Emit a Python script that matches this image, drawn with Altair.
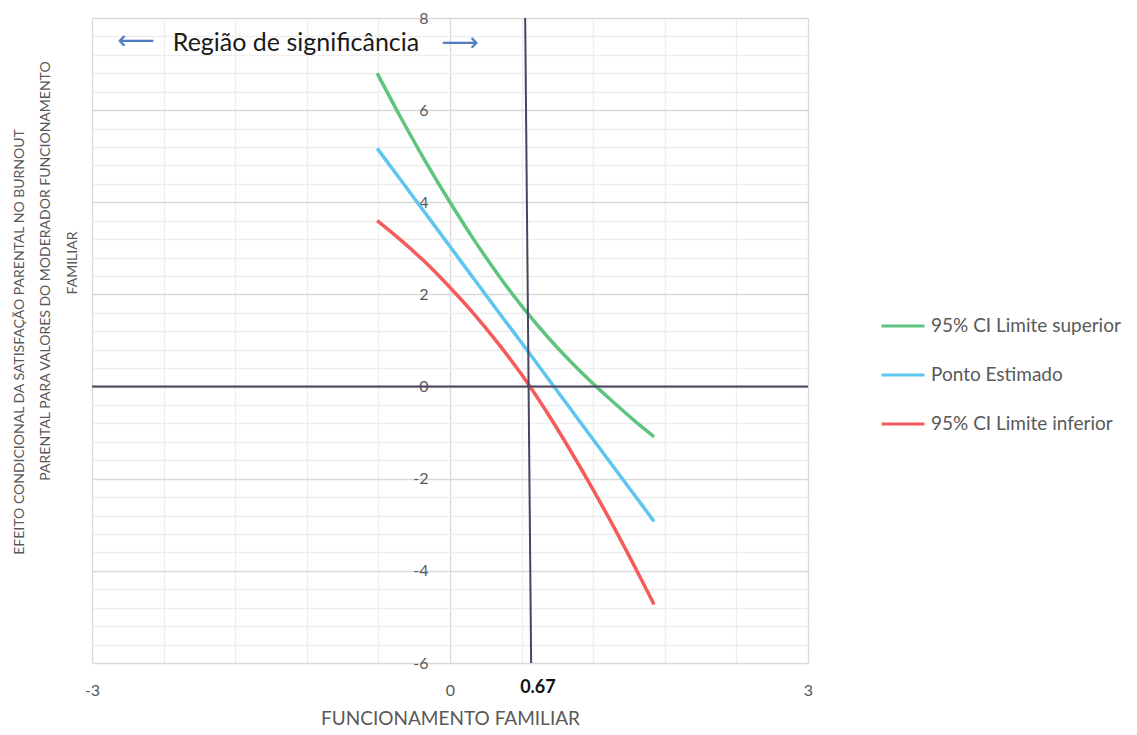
import altair as alt
import pandas as pd

# ---- data ----
x_vals = [-0.61, -0.4, -0.2, 0.0, 0.2, 0.4, 0.6, 0.8, 1.0, 1.2, 1.4, 1.6, 1.71]
upper = [6.80, 5.78, 4.86, 4.00, 3.19, 2.44, 1.75, 1.13, 0.57, 0.06, -0.41, -0.86, -1.09]
estimate = [5.17, 4.44, 3.74, 3.04, 2.34, 1.64, 0.95, 0.25, -0.45, -1.15, -1.85, -2.54, -2.93]
lower = [3.60, 3.15, 2.68, 2.15, 1.58, 0.95, 0.26, -0.51, -1.35, -2.24, -3.18, -4.17, -4.73]

series_names = ["95% CI Limite superior", "Ponto Estimado", "95% CI Limite inferior"]
series_colors = ["#5ec47e", "#5cc6f0", "#f65b5b"]

x_ticks = [-3, -2.4, -1.8, -1.2, -0.6, 0, 0.6, 1.2, 1.8, 2.4, 3]
y_ticks = [-6, -5.6, -5.2, -4.8, -4.4, -4, -3.6, -3.2, -2.8, -2.4, -2, -1.6, -1.2,
           -0.8, -0.4, 0, 0.4, 0.8, 1.2, 1.6, 2, 2.4, 2.8, 3.2, 3.6, 4, 4.4, 4.8,
           5.2, 5.6, 6, 6.4, 6.8, 7.2, 7.6, 8]

jn_value = 0.67
jn_line_x = [0.63, 0.68]
jn_line_y = [8, -6]

x_title = "FUNCIONAMENTO FAMILIAR"
y_title_lines = [
    "EFEITO CONDICIONAL DA SATISFAÇÃO PARENTAL NO BURNOUT",
    "PARENTAL PARA VALORES DO MODERADOR FUNCIONAMENTO",
    "FAMILIAR",
]
annotation = "Região de significância"

# ---- tables ----
rows = []
for name, ys in zip(series_names, [upper, estimate, lower]):
    for xv, yv in zip(x_vals, ys):
        rows.append({"x": xv, "y": yv, "series": name})
df = pd.DataFrame(rows)
df_jn = pd.DataFrame({"x": jn_line_x, "y": jn_line_y})
df_zero = pd.DataFrame({"y": [0]})
df_jnlab = pd.DataFrame({"x": [jn_value], "t": [f"{jn_value:.2f}"]})

FONT = "Lato"
GRAY = "#595959"
major_x = "abs(datum.value/3 - round(datum.value/3)) < 0.001"
major_y = "abs(datum.value/2 - round(datum.value/2)) < 0.001"

x_scale = alt.Scale(domain=[-3, 3], nice=False, zero=False)
y_scale = alt.Scale(domain=[-6, 8], nice=False, zero=False)

x_axis = alt.Axis(
    values=x_ticks, tickCount=50, grid=True, ticks=False, domain=False,
    gridColor={"condition": {"test": major_x, "value": "#d9d9d9"}, "value": "#eeeeee"},
    gridWidth=1.3,
    labelExpr=f"{major_x} ? ('' + datum.value) : ''",
    labelOverlap=False, labelFlush=False, labelPadding=19,
    labelFont=FONT, labelFontSize=16, labelColor=GRAY,
    title=x_title, titleFont=FONT, titleFontSize=19, titleFontWeight="normal",
    titleColor=GRAY, titleY=61, titleBaseline="alphabetic",
)
y_axis = alt.Axis(
    values=y_ticks, tickCount=50, grid=True, ticks=False, domain=False,
    gridColor={"condition": {"test": major_y, "value": "#d9d9d9"}, "value": "#eeeeee"},
    gridWidth=1.3,
    labelExpr=f"{major_y} ? ('' + datum.value) : ''",
    labelOverlap=False, labelFlush=False, labelPadding=22, offset=-358,
    labelFont=FONT, labelFontSize=16, labelColor=GRAY, title=None,
)

lines = alt.Chart(df).mark_line(strokeWidth=3.5, interpolate="monotone").encode(
    x=alt.X("x:Q", scale=x_scale, axis=x_axis),
    y=alt.Y("y:Q", scale=y_scale, axis=y_axis),
    color=alt.Color(
        "series:N",
        scale=alt.Scale(domain=series_names, range=series_colors),
        legend=alt.Legend(
            title=None, orient="none", legendX=788, legendY=285,
            symbolType="stroke", symbolSize=1849, symbolStrokeWidth=3,
            labelFont=FONT, labelFontSize=19, labelColor=GRAY, labelOffset=5,
            labelLimit=400, rowPadding=16, padding=0,
        ),
    ),
)

zero_rule = alt.Chart(df_zero).mark_rule(color="#4a4460", strokeWidth=2).encode(y="y:Q")
jn_rule = alt.Chart(df_jn).mark_line(color="#4a4460", strokeWidth=2).encode(x="x:Q", y="y:Q")

jn_label = alt.Chart(df_jnlab).mark_text(
    font=FONT, fontSize=18, fontWeight="bold", color="#111111", dx=8, baseline="middle"
).encode(x="x:Q", y=alt.value(670), text="t:N")

ann_df = pd.DataFrame({"t": [annotation]})
ann = alt.Chart(ann_df).mark_text(
    font=FONT, fontSize=25, color="#1a1a1a", baseline="middle", align="center"
).encode(x=alt.value(204), y=alt.value(25), text="t:N")

arrow_l = alt.Chart(pd.DataFrame({"t": ["\u27f5"]})).mark_text(
    font="DejaVu Sans", fontSize=26, color="#4f7ec0", baseline="middle", align="center"
).encode(x=alt.value(44), y=alt.value(23), text="t:N")
arrow_r = alt.Chart(pd.DataFrame({"t": ["\u27f6"]})).mark_text(
    font="DejaVu Sans", fontSize=26, color="#4f7ec0", baseline="middle", align="center"
).encode(x=alt.value(368), y=alt.value(25), text="t:N")

title_pos = [(-72, 324), (-46, 253), (-19, 245)]
title_layers = []
for line, (tx, ty) in zip(y_title_lines, title_pos):
    title_layers.append(
        alt.Chart(pd.DataFrame({"t": [line]})).mark_text(
            font=FONT, fontSize=14, color=GRAY, angle=270,
            baseline="middle", align="center"
        ).encode(x=alt.value(tx), y=alt.value(ty), text="t:N")
    )

chart = alt.layer(
    lines, zero_rule, jn_rule, jn_label, ann, arrow_l, arrow_r, *title_layers
).properties(
    width=716, height=645,
    autosize=alt.AutoSizeParams(type="none"),
    padding={"left": 84, "top": 10, "right": 320, "bottom": 64},
    background="white",
).configure_view(stroke=None)

chart.save("out.html", embed_options={"renderer": "svg", "actions": False})
